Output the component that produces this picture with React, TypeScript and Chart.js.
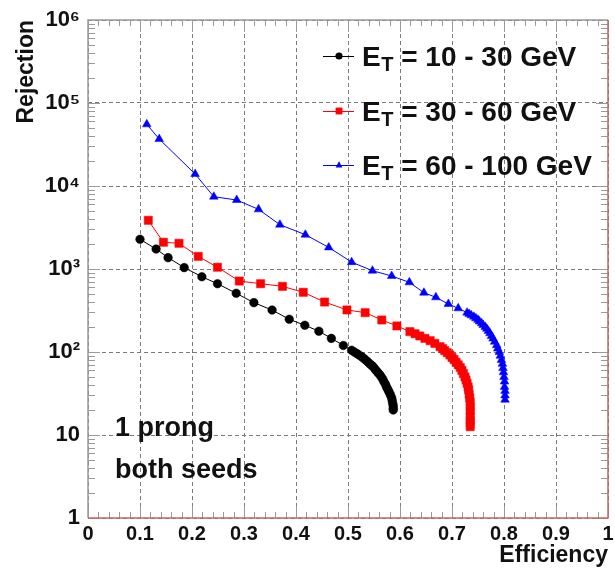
import React, { useEffect, useRef } from "react";
import { Chart, registerables } from "chart.js";

Chart.register(...registerables);

const FONT = '"Liberation Sans", Arial, Helvetica, sans-serif';

// ---- axis ticks ----
const X_TICKS = [0, 0.1, 0.2, 0.3, 0.4, 0.5, 0.6, 0.7, 0.8, 0.9, 1];
const X_TICK_LABELS = ["0", "0.1", "0.2", "0.3", "0.4", "0.5", "0.6", "0.7", "0.8", "0.9", "1"];
const Y_TICKS = [1, 10, 100, 1000, 10000, 100000, 1000000];
const Y_TICK_LABELS = ["1", "10", "10²", "10³", "10⁴", "10⁵", "10⁶"];

// ---- series ----
const SERIES_LABELS = ["10 - 30 GeV", "30 - 60 GeV", "60 - 100 GeV"];
const SERIES_COLORS = ["#000000", "#ff0000", "#0000ff"];

const LOW_EFF = [
  0.100, 0.131, 0.154, 0.185, 0.219, 0.249, 0.285, 0.319, 0.354, 0.387, 0.417, 0.444, 0.468, 0.491,
  0.507, 0.512, 0.517, 0.521, 0.526, 0.530, 0.534, 0.538, 0.542, 0.5455, 0.549, 0.552, 0.555, 0.558,
  0.5615, 0.564, 0.567, 0.569, 0.572, 0.574, 0.576, 0.578, 0.580, 0.582, 0.584, 0.585, 0.586, 0.587,
  0.587, 0.587,
];
const LOW_REJ = [
  2280, 1740, 1370, 1040, 807, 665, 510, 393, 320, 248, 210, 178, 146, 120,
  105, 100, 96, 92, 88, 84, 80, 76, 72, 69, 66, 62, 59, 56,
  53, 50, 47, 44, 41, 38, 36, 34, 32, 30, 28, 26, 24, 22.5,
  21, 20,
];

const MID_EFF = [
  0.116, 0.145, 0.175, 0.212, 0.249, 0.291, 0.332, 0.374, 0.414, 0.455, 0.498, 0.533, 0.565, 0.594,
  0.619, 0.629, 0.638, 0.648, 0.658, 0.667, 0.677, 0.682, 0.686, 0.691, 0.696, 0.700, 0.704, 0.708,
  0.712, 0.716, 0.719, 0.722, 0.725, 0.727, 0.729, 0.731, 0.732, 0.733, 0.734, 0.735, 0.735, 0.735,
  0.735, 0.735, 0.735, 0.735,
];
const MID_REJ = [
  3860, 2100, 2040, 1420, 1050, 716, 665, 618, 524, 400, 321, 298, 243, 206,
  176, 166, 156, 146, 137, 127, 116, 110, 104, 98, 92, 86, 81, 75,
  70, 65, 60, 55, 50, 46, 42, 38, 35, 31, 28, 25, 22, 19.5,
  17, 15, 13.8, 12.6,
];

const HIGH_EFF = [
  0.113, 0.137, 0.206, 0.242, 0.286, 0.328, 0.369, 0.418, 0.463, 0.507, 0.547, 0.584, 0.618, 0.646,
  0.669, 0.693, 0.712, 0.729, 0.733, 0.737, 0.742, 0.746, 0.750, 0.753, 0.757, 0.760, 0.764, 0.767,
  0.770, 0.773, 0.776, 0.779, 0.782, 0.786, 0.788, 0.791, 0.793, 0.795, 0.797, 0.798, 0.799, 0.800,
  0.801, 0.801, 0.802, 0.802, 0.802,
];
const HIGH_REJ = [
  55300, 36800, 13950, 7430, 6780, 5230, 3420, 2590, 1820, 1210, 954, 824, 691, 518,
  456, 379, 336, 298, 287, 277, 266, 255, 244, 233, 222, 211, 200, 190,
  179, 168, 156, 145, 133, 121, 110, 100, 90, 80, 72, 64, 57, 50,
  44, 38, 34, 30, 26.6,
];

const ANNOTATION_LINES = ["1 prong", "both seeds"];

const toPoints = (xs: number[], ys: number[]) => xs.map((x, i) => ({ x, y: ys[i] }));

function drawMarker(c: CanvasRenderingContext2D, style: string, x: number, y: number, r: number, color: string) {
  c.save();
  c.fillStyle = color;
  c.beginPath();
  if (style === "circle") {
    c.arc(x, y, r, 0, Math.PI * 2);
  } else if (style === "rect") {
    c.rect(x - r, y - r, 2 * r, 2 * r);
  } else {
    c.moveTo(x, y - r * 1.1);
    c.lineTo(x + r, y + r * 0.7);
    c.lineTo(x - r, y + r * 0.7);
    c.closePath();
  }
  c.fill();
  c.restore();
}

const framePlugin = {
  id: "frameTicks",
  beforeDatasetsDraw(chart: any) {
    const c = chart.ctx as CanvasRenderingContext2D;
    const { left, right, top, bottom } = chart.chartArea;
    const xs = chart.scales.x;
    const ys = chart.scales.y;
    c.save();
    c.strokeStyle = "#9a9a9a";
    c.lineWidth = 1;
    for (let i = 0; i <= 50; i++) {
      const v = i / 50;
      const px = Math.round(xs.getPixelForValue(v)) + 0.5;
      const len = i % 5 === 0 ? 12 : 6;
      c.beginPath();
      c.moveTo(px, bottom);
      c.lineTo(px, bottom - len);
      c.moveTo(px, top);
      c.lineTo(px, top + len);
      c.stroke();
    }
    for (let d = 0; d < 6; d++) {
      for (let m = 1; m <= 9; m++) {
        const v = m * Math.pow(10, d);
        const py = Math.round(ys.getPixelForValue(v)) + 0.5;
        const len = m === 1 ? 12 : 7;
        c.beginPath();
        c.moveTo(left, py);
        c.lineTo(left + len, py);
        c.moveTo(right, py);
        c.lineTo(right - len, py);
        c.stroke();
      }
    }
    c.lineWidth = 1.5;
    c.strokeStyle = "#9a9a9a";
    c.beginPath();
    c.moveTo(left, bottom);
    c.lineTo(left, top);
    c.lineTo(right, top);
    c.stroke();
    c.strokeStyle = "#c06a6a";
    c.beginPath();
    c.moveTo(left, bottom);
    c.lineTo(right, bottom);
    c.lineTo(right, top);
    c.stroke();
    c.restore();
  },
  afterDraw(chart: any) {
    const c = chart.ctx as CanvasRenderingContext2D;
    const styles = ["circle", "rect", "triangle"];
    const rowY = [56, 111, 165];
    c.save();
    for (let i = 0; i < SERIES_LABELS.length; i++) {
      const y = rowY[i];
      c.strokeStyle = SERIES_COLORS[i];
      c.lineWidth = 1;
      c.beginPath();
      c.moveTo(323, y + 0.5);
      c.lineTo(354, y + 0.5);
      c.stroke();
      drawMarker(c, styles[i], 339, y, i === 0 ? 3.6 : 3.4, SERIES_COLORS[i]);
      c.fillStyle = "#111";
      c.textBaseline = "alphabetic";
      c.textAlign = "left";
      c.font = `bold 28px ${FONT}`;
      let x = 362;
      c.fillText("E", x, y + 10);
      x += c.measureText("E").width + 0.5;
      c.font = `bold 20px ${FONT}`;
      c.fillText("T", x, y + 15);
      x += c.measureText("T").width;
      c.font = `bold 28px ${FONT}`;
      c.fillText(" = " + SERIES_LABELS[i], x, y + 10);
    }
    c.font = `bold 27px ${FONT}`;
    c.fillStyle = "#111";
    c.fillText(ANNOTATION_LINES[0], 115, 436);
    c.fillText(ANNOTATION_LINES[1], 115, 478);
    c.restore();
  },
};

export default function App() {
  const ref = useRef<HTMLCanvasElement | null>(null);
  useEffect(() => {
    if (!ref.current) return;
    const mk = (i: number, xs: number[], ys: number[], style: string, r: number) => ({
      label: SERIES_LABELS[i],
      data: toPoints(xs, ys),
      borderColor: SERIES_COLORS[i],
      backgroundColor: SERIES_COLORS[i],
      borderWidth: 1,
      pointStyle: style,
      pointRadius: r,
      pointBorderWidth: 0.5,
      pointBorderColor: SERIES_COLORS[i],
      pointBackgroundColor: SERIES_COLORS[i],
      tension: 0,
    });
    const chart = new Chart(ref.current, {
      type: "line",
      data: {
        datasets: [
          mk(0, LOW_EFF, LOW_REJ, "circle", 4.3),
          mk(1, MID_EFF, MID_REJ, "rect", 5.8),
          mk(2, HIGH_EFF, HIGH_REJ, "triangle", 5),
        ],
      },
      options: {
        responsive: false,
        animation: false,
        devicePixelRatio: 1,
        layout: { padding: { top: 20, right: 7, left: 0, bottom: 0 } },
        plugins: { legend: { display: false }, tooltip: { enabled: false } },
        scales: {
          x: {
            type: "linear",
            min: 0,
            max: 1,
            afterBuildTicks: (s: any) => {
              s.ticks = X_TICKS.map((v) => ({ value: v }));
            },
            afterFit: (s: any) => {
              s.height = 51;
              s.paddingLeft = 0;
              s.paddingRight = 0;
              s.paddingTop = 0;
              s.paddingBottom = 0;
            },
            ticks: {
              maxRotation: 0,
              autoSkip: false,
              padding: 4,
              color: "#111",
              font: { family: FONT, size: 20, weight: "bold" },
              callback: (_v: any, i: number) => X_TICK_LABELS[i],
            },
            grid: { color: "#7a7a7a", lineWidth: 1, drawTicks: false },
            border: { display: false, dash: [4, 3] },
            title: {
              display: true,
              text: "Efficiency",
              align: "end",
              color: "#111",
              font: { family: FONT, size: 23, weight: "bold" },
              padding: { top: 0, bottom: 0 },
            },
          },
          y: {
            type: "logarithmic",
            min: 1,
            max: 1000000,
            afterBuildTicks: (s: any) => {
              s.ticks = Y_TICKS.map((v) => ({ value: v }));
            },
            afterFit: (s: any) => {
              s.width = 88;
              s.paddingLeft = 0;
              s.paddingRight = 0;
              s.paddingTop = 0;
              s.paddingBottom = 0;
            },
            ticks: {
              autoSkip: false,
              padding: 8,
              color: "#111",
              font: { family: FONT, size: 22, weight: "bold" },
              callback: (_v: any, i: number) => Y_TICK_LABELS[i],
            },
            grid: { color: "#7a7a7a", lineWidth: 1, drawTicks: false },
            border: { display: false, dash: [4, 3] },
            title: {
              display: true,
              text: "Rejection",
              align: "end",
              color: "#111",
              font: { family: FONT, size: 23, weight: "bold" },
              padding: { top: 13, bottom: 0 },
            },
          },
        },
      },
      plugins: [framePlugin],
    } as any);
    return () => chart.destroy();
  }, []);
  return (
    <canvas
      ref={ref}
      width={615}
      height={569}
      style={{ position: "fixed", left: 0, top: 0, display: "block", background: "#fff" }}
    />
  );
}
